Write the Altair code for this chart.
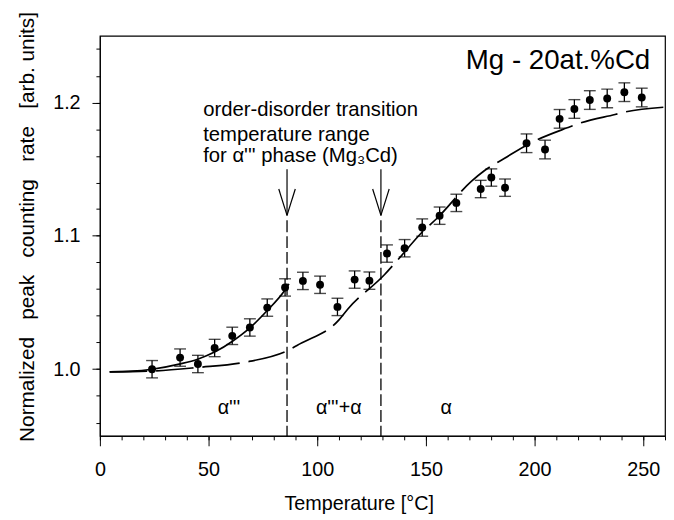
import altair as alt
import pandas as pd

# measured data points (temperature in C, normalized peak counting rate, error)
temps = [24.0, 36.9, 45.1, 52.8, 60.9, 69.0, 77.0, 85.2, 93.4, 101.3, 109.3, 117.2,
         124.0, 132.1, 140.2, 148.3, 156.3, 164.0, 175.2, 180.1, 186.4, 196.3, 204.8,
         211.5, 218.3, 225.4, 233.4, 241.3, 249.3]
rates = [1.000, 1.0087, 1.0039, 1.0159, 1.025, 1.0313, 1.0462, 1.0613, 1.0662, 1.0633,
         1.0467, 1.0672, 1.0664, 1.0867, 1.0907, 1.1062, 1.1151, 1.1247, 1.1351, 1.1437,
         1.1361, 1.1694, 1.1647, 1.1877, 1.1951, 1.2018, 1.2030, 1.2077, 1.2037]
errors = [0.0065, 0.0065, 0.0065, 0.0065, 0.0065, 0.0065, 0.0065, 0.0065, 0.0065, 0.0065,
          0.0065, 0.0065, 0.0065, 0.0065, 0.0065, 0.0065, 0.0065, 0.0065, 0.0065, 0.0065,
          0.0065, 0.007, 0.007, 0.007, 0.007, 0.007, 0.007, 0.007, 0.007]

# solid fit (alpha''' region)
fit_low_t = [4.5, 15, 24, 37, 45, 53, 61, 69, 77, 85, 87]
fit_low_v = [0.998, 0.9985, 1.0, 1.004, 1.0075, 1.013, 1.021, 1.031, 1.044, 1.059, 1.064]

# long-dashed fit (whole range)
fit_all_t = [4.5, 26, 45, 66, 87, 92, 110, 114, 131, 136, 149, 155, 171, 177, 186,
             198, 215, 220, 237, 242, 260]
fit_all_v = [0.998, 0.9988, 1.0013, 1.005, 1.0145, 1.019, 1.037, 1.045, 1.071, 1.080,
             1.104, 1.113, 1.141, 1.149, 1.158, 1.1695, 1.181, 1.184, 1.191, 1.193, 1.1965]

# transition temperatures (dashed verticals + arrows)
transition_t = [86.1, 129.3]
line_top = 1.1116
axis_bottom = 0.95
arrow_top = 1.150
arrow_tip = 1.1153
arrow_wing_v = 1.1351
arrow_wing_dt = 3.8

x_major = [0, 50, 100, 150, 200, 250]
x_minor = list(range(0, 261, 10))
y_major = [1.0, 1.1, 1.2]
y_minor = [0.96, 0.98, 1.0, 1.02, 1.04, 1.06, 1.08, 1.1, 1.12, 1.14, 1.16, 1.18, 1.2,
           1.22, 1.24]

# annotation texts
note_lines = ["order-disorder transition", "temperature range", "for \u03b1''' phase (Mg\u2083Cd)"]
note_t = [47.5, 47.5, 47.5]
note_v = [1.1901, 1.1713, 1.155]
phase_labels = ["\u03b1'''", "\u03b1'''+\u03b1", "\u03b1"]
phase_t = [59.4, 109.9, 159.3]
phase_v = [0.9664, 0.9664, 0.9664]
alloy_label = ["Mg - 20at.%Cd"]
alloy_t = [253.2]
alloy_v = [1.2252]

FONT = "Liberation Sans"

pts = pd.DataFrame({"T": temps, "R": rates, "E": errors})
pts["lo"] = pts["R"] - pts["E"]
pts["hi"] = pts["R"] + pts["E"]

xs = alt.Scale(domain=[0, 260], nice=False, zero=False)
ys = alt.Scale(domain=[0.95, 1.25], nice=False, zero=False)

common = dict(domainColor="black", tickColor="black", grid=False, labelFont=FONT,
              labelFontSize=20, labelColor="black", labelOverlap=False, labelFlush=False,
              titleFont=FONT, titleFontWeight="normal", titleColor="black")

x_major_axis = alt.Axis(values=x_major, orient="bottom", title="Temperature [\u00b0C]",
                        tickSize=10, labelPadding=14, format="d", titleFontSize=20,
                        titleX=262, titleY=74, titleBaseline="alphabetic", titleAlign="center",
                        **common)
y_major_axis = alt.Axis(values=y_major, orient="left",
                        title="Normalized\u00a0\u00a0 peak\u00a0\u00a0 counting\u00a0\u00a0 rate\u00a0\u00a0 [arb. units]",
                        tickSize=8, labelPadding=12, format=".1f", titleFontSize=21,
                        titleX=-73, titleY=193, titleBaseline="middle", titleAlign="center",
                        titleAngle=270, **common)
x_minor_axis = alt.Axis(values=x_minor, orient="bottom", title=None, labels=False,
                        tickSize=4, domain=False, tickColor="black", grid=False)
y_minor_axis = alt.Axis(values=y_minor, orient="left", title=None, labels=False,
                        tickSize=4, domain=False, tickColor="black", grid=False)


def X(field, axis=None):
    return alt.X(field, scale=xs, axis=axis)


def Y(field, axis=None):
    return alt.Y(field, scale=ys, axis=axis)


fit_all = alt.Chart(pd.DataFrame({"T": fit_all_t, "R": fit_all_v})).mark_line(
    color="black", strokeWidth=1.7, strokeDash=[38, 9], interpolate="monotone"
).encode(x=X("T:Q", x_major_axis), y=Y("R:Q", y_major_axis))

fit_low = alt.Chart(pd.DataFrame({"T": fit_low_t, "R": fit_low_v})).mark_line(
    color="black", strokeWidth=1.7, interpolate="monotone"
).encode(x=X("T:Q"), y=Y("R:Q"))

vlines = alt.Chart(pd.DataFrame({"T": transition_t, "top": [line_top] * 2,
                                 "bot": [axis_bottom] * 2})).mark_rule(
    color="black", strokeWidth=1.3, strokeDash=[12, 4]
).encode(x=X("T:Q"), y=Y("top:Q"), y2="bot:Q")

arrow_rows = []
for t in transition_t:
    arrow_rows.append({"x1": t, "x2": t, "y1": arrow_top, "y2": arrow_tip})
    arrow_rows.append({"x1": t - arrow_wing_dt, "x2": t, "y1": arrow_wing_v, "y2": arrow_tip})
    arrow_rows.append({"x1": t + arrow_wing_dt, "x2": t, "y1": arrow_wing_v, "y2": arrow_tip})
arrows = alt.Chart(pd.DataFrame(arrow_rows)).mark_rule(color="black", strokeWidth=1.2).encode(
    x=X("x1:Q"), x2="x2:Q", y=Y("y1:Q"), y2="y2:Q")

base = alt.Chart(pts)
bars = base.mark_rule(color="black", strokeWidth=1.3).encode(
    x=X("T:Q"), y=Y("lo:Q"), y2="hi:Q")
caps_lo = base.mark_tick(color="black", orient="horizontal", size=12, thickness=1.4).encode(
    x=X("T:Q"), y=Y("lo:Q"))
caps_hi = base.mark_tick(color="black", orient="horizontal", size=12, thickness=1.4).encode(
    x=X("T:Q"), y=Y("hi:Q"))
dots = base.mark_circle(color="black", opacity=1, size=64).encode(
    x=X("T:Q", x_minor_axis), y=Y("R:Q", y_minor_axis))

notes = alt.Chart(pd.DataFrame({"T": note_t, "R": note_v, "txt": note_lines})).mark_text(
    font=FONT, fontSize=20.5, color="black", align="left", baseline="alphabetic"
).encode(x=X("T:Q"), y=Y("R:Q"), text="txt:N")

phases = alt.Chart(pd.DataFrame({"T": phase_t, "R": phase_v, "txt": phase_labels})).mark_text(
    font=FONT, fontSize=20, color="black", align="center", baseline="alphabetic"
).encode(x=X("T:Q"), y=Y("R:Q"), text="txt:N")

alloy = alt.Chart(pd.DataFrame({"T": alloy_t, "R": alloy_v, "txt": alloy_label})).mark_text(
    font=FONT, fontSize=28, color="black", align="right", baseline="alphabetic"
).encode(x=X("T:Q"), y=Y("R:Q"), text="txt:N")

chart = alt.layer(fit_all, fit_low, vlines, arrows, bars, caps_lo, caps_hi, dots,
                  notes, phases, alloy).resolve_axis(
    x="independent", y="independent"
).properties(
    width=572, height=405,
    padding={"left": 93, "top": 25, "right": 1, "bottom": 80},
    autosize="none",
    background="white",
).configure_view(stroke="black", strokeWidth=1.2)

chart.save("out.html", embed_options={"renderer": "svg", "actions": False})
